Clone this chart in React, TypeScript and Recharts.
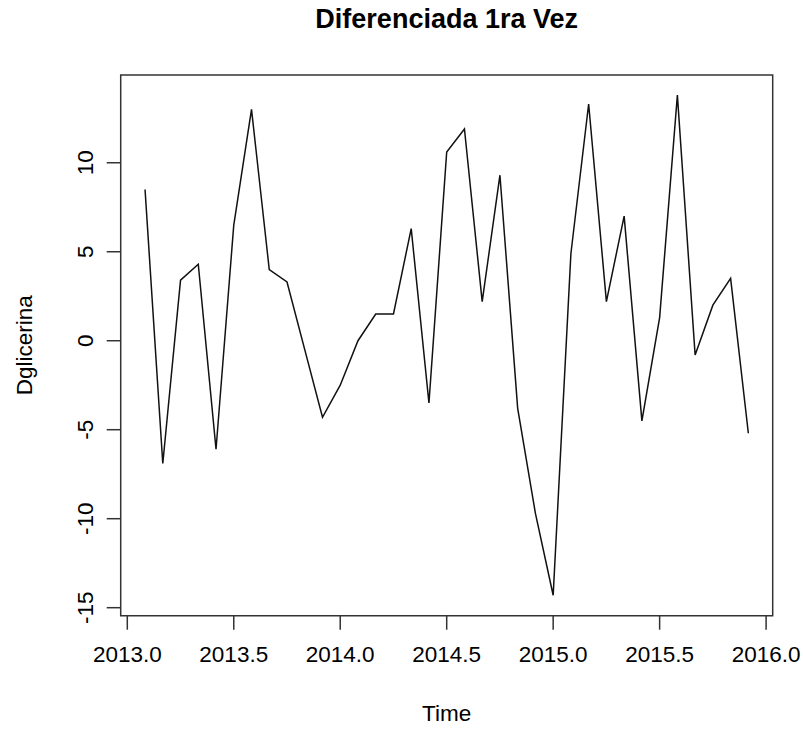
import { LineChart, Line, XAxis, YAxis, ReferenceArea, Label } from 'recharts';

// monthly series, starts Feb 2013 (like ts(start = c(2013, 2), frequency = 12))
const startYear = 2013;
const startMonth = 2;
const dglicerina = [
  8.5, -6.9, 3.4, 4.3, -6.1, 6.5, 13.0, 4.0, 3.3, -0.5, -4.3,
  -2.5, 0.0, 1.5, 1.5, 6.3, -3.5, 10.6, 11.9, 2.2, 9.3, -3.8, -9.7,
  -14.3, 4.9, 13.3, 2.2, 7.0, -4.5, 1.3, 13.8, -0.8, 2.0, 3.5, -5.2,
];
const xTicks = [2013, 2013.5, 2014, 2014.5, 2015, 2015.5, 2016];
const yTicks = [-15, -10, -5, 0, 5, 10];
const xDomain = [2012.969, 2016.031];
const yDomain = [-15.45, 14.93];

const data = dglicerina.map((v, i) => ({
  time: startYear + (startMonth - 1 + i) / 12,
  value: v,
}));

const FONT = '"Liberation Sans", Arial, Helvetica, sans-serif';
const AXIS_FONT = 22.5;

const YTick = ({ x, y, payload }: any) => (
  <text
    x={x}
    y={y}
    transform={`rotate(-90 ${x} ${y})`}
    textAnchor="middle"
    fontSize={AXIS_FONT}
    fontFamily={FONT}
    fill="#000"
  >
    {payload.value}
  </text>
);

const XTitle = ({ viewBox }: any) => (
  <text
    x={viewBox.x + viewBox.width / 2}
    y={viewBox.y + 105}
    textAnchor="middle"
    fontSize={AXIS_FONT}
    fontFamily={FONT}
    fill="#000"
  >
    Time
  </text>
);

const YTitle = ({ viewBox }: any) => {
  const x = viewBox.x + 32;
  const y = viewBox.y + viewBox.height / 2;
  return (
    <text
      x={x}
      y={y}
      transform={`rotate(-90 ${x} ${y})`}
      textAnchor="middle"
      fontSize={AXIS_FONT}
      fontFamily={FONT}
      fill="#000"
    >
      Dglicerina
    </text>
  );
};

const MainTitle = ({ viewBox }: any) => (
  <text
    x={viewBox.x + viewBox.width / 2}
    y={viewBox.y - 46.7}
    textAnchor="middle"
    fontSize={27}
    fontWeight="bold"
    fontFamily={FONT}
    fill="#000"
  >
    Diferenciada 1ra Vez
  </text>
);

export default function App() {
  return (
    <div style={{ position: 'absolute', left: 0, top: 0, background: '#fff' }}>
      <LineChart
        width={803}
        height={730}
        data={data}
        margin={{ top: 75, right: 30.3, bottom: 0, left: 0 }}
        style={{ fontFamily: FONT }}
      >
        <XAxis
          dataKey="time"
          type="number"
          domain={xDomain}
          ticks={xTicks}
          allowDataOverflow
          height={114.3}
          axisLine={false}
          tickSize={14}
          tickMargin={16}
          tickLine={{ stroke: '#333', strokeWidth: 1.5 }}
          tick={{ fontSize: AXIS_FONT, fill: '#000', fontFamily: FONT }}
          tickFormatter={(v: number) => v.toFixed(1)}
        >
          <Label content={<XTitle />} />
        </XAxis>
        <YAxis
          type="number"
          domain={yDomain}
          ticks={yTicks}
          allowDataOverflow
          width={120.7}
          axisLine={false}
          tickSize={14}
          tickMargin={14}
          tickLine={{ stroke: '#333', strokeWidth: 1.5 }}
          tick={<YTick />}
        >
          <Label content={<YTitle />} />
        </YAxis>
        <ReferenceArea
          x1={xDomain[0]}
          x2={xDomain[1]}
          y1={yDomain[0]}
          y2={yDomain[1]}
          fill="none"
          stroke="#333"
          strokeWidth={1.5}
          ifOverflow="visible"
          label={<MainTitle />}
        />
        <Line
          type="linear"
          dataKey="value"
          stroke="#111"
          strokeWidth={1.5}
          dot={false}
          isAnimationActive={false}
        />
      </LineChart>
    </div>
  );
}
